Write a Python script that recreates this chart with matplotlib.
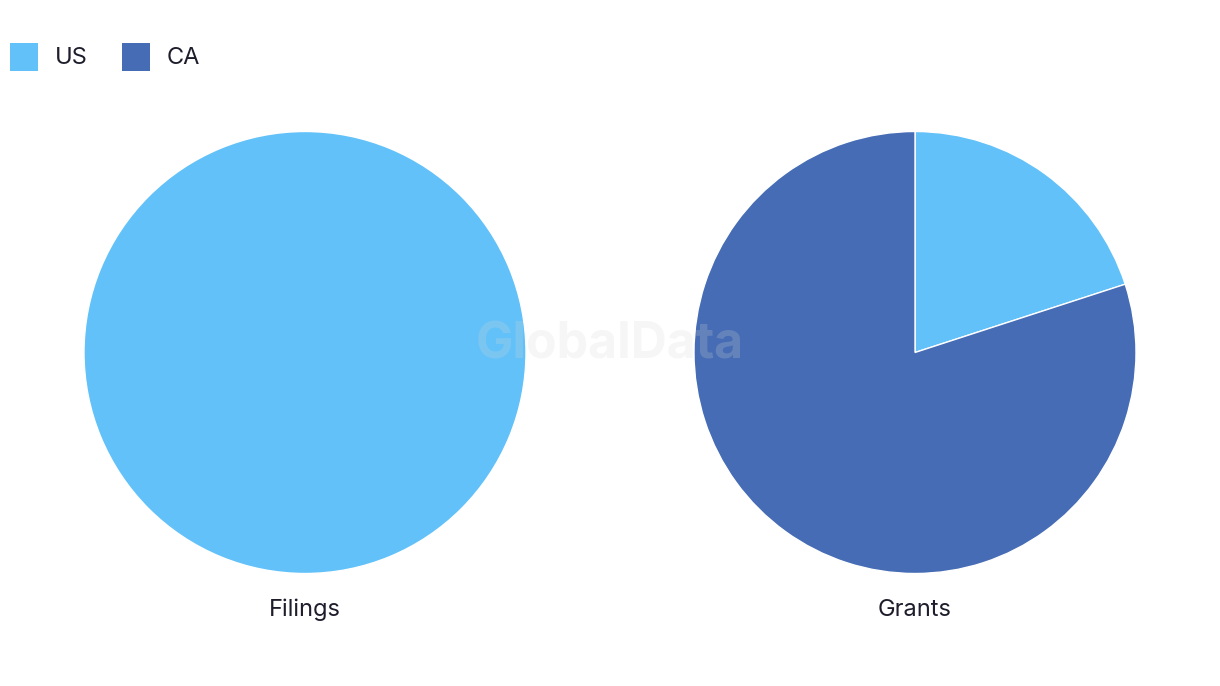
import matplotlib
matplotlib.use("Agg")
import matplotlib.pyplot as plt
from matplotlib.patches import Rectangle

# data
series = ["US", "CA"]
colors = ["#62C1F9", "#456CB4"]
charts = ["Filings", "Grants"]
filings = [100, 0]
grants = [20, 80]

plt.rcParams["font.family"] = ["Inter", "DejaVu Sans"]
text_color = "#1d1d2b"

W, H = 1220, 686
fig = plt.figure(figsize=(W / 100, H / 100), dpi=100)

centers = [(305, 352.5), (915, 352.5)]
radius = 221

for (cx, cy), name, values in zip(centers, charts, [filings, grants]):
    ax = fig.add_axes([(cx - radius) / W, (H - cy - radius) / H, 2 * radius / W, 2 * radius / H])
    vals = [v for v in values if v > 0]
    cols = [c for v, c in zip(values, colors) if v > 0]
    ax.pie(vals, colors=cols, startangle=90, counterclock=False, radius=1,
           wedgeprops=dict(edgecolor="white", linewidth=1))
    ax.set_xlim(-1, 1)
    ax.set_ylim(-1, 1)
    ax.set_aspect("equal")
    ax.axis("off")
    fig.text(cx / W, 1 - 610 / H, name, ha="center", va="center", fontsize=17, color=text_color)

# legend
x = 10
for name, col in zip(series, colors):
    fig.patches.append(Rectangle((x / W, 1 - 71 / H), 28 / W, 28 / H, transform=fig.transFigure,
                                 facecolor=col, edgecolor="none"))
    fig.text((x + 45) / W, 1 - 58.5 / H, name, ha="left", va="center", fontsize=17, color=text_color)
    x += 112

# watermark
fig.text(610 / W, 1 - 345 / H, "GlobalData", ha="center", va="center", fontsize=36,
         fontweight="bold", color="#d8d8d8", alpha=0.22, zorder=10)

fig.savefig("out.png", dpi=100)
